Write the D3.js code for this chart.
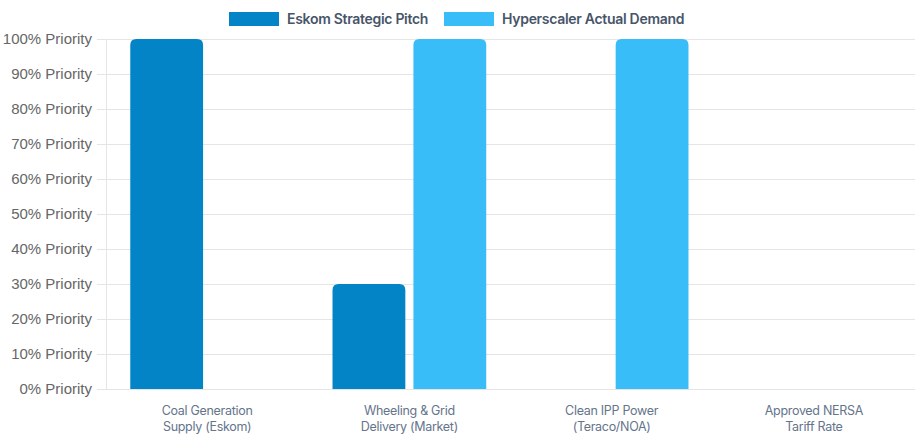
<!DOCTYPE html>
<html>
<head>
<meta charset="utf-8">
<script src="https://cdn.jsdelivr.net/npm/d3@7.9.0/dist/d3.min.js"></script>
<style>
  html, body { margin: 0; padding: 0; background: #fff; }
  svg { display: block; }
</style>
</head>
<body>
<svg id="chart" width="915" height="437"></svg>
<script>
// Chart data
const categories = [
  ['Coal Generation', 'Supply (Eskom)'],
  ['Wheeling & Grid', 'Delivery (Market)'],
  ['Clean IPP Power', '(Teraco/NOA)'],
  ['Approved NERSA', 'Tariff Rate']
];
const seriesNames = ['Eskom Strategic Pitch', 'Hyperscaler Actual Demand'];
const eskomPitch = [100, 30, 0, 0];
const hyperscalerDemand = [0, 100, 100, 0];
const yTicks = [0, 10, 20, 30, 40, 50, 60, 70, 80, 90, 100];

const colors = ['#0284c7', '#38bdf8'];
const series = [eskomPitch, hyperscalerDemand];

const width = 915, height = 437;
const margin = { top: 39, right: 0, bottom: 48, left: 106 };

const svg = d3.select('#chart');

// Scales (category takes 80% of its slot, each bar 90% of its half)
const x0 = d3.scaleBand()
  .domain(d3.range(categories.length))
  .range([margin.left, width - margin.right]);

const x1 = d3.scaleBand()
  .domain(d3.range(series.length))
  .range([x0.bandwidth() * 0.1, x0.bandwidth() * 0.9])
  .paddingInner(0.1).paddingOuter(0.05);

const y = d3.scaleLinear()
  .domain([0, 100])
  .range([height - margin.bottom, margin.top]);

// Grid lines + y ticks
const yAxis = d3.axisLeft(y)
  .tickValues(yTicks)
  .tickSize(-(width - margin.left - margin.right))
  .tickFormat((d) => `${d}% Priority`);

const gy = svg.append('g')
  .attr('transform', `translate(${margin.left},0)`)
  .call(yAxis);

gy.select('.domain').attr('stroke', '#e5e5e5');
gy.selectAll('.tick line')
  .attr('x1', -9)
  .attr('stroke', '#e5e5e5');
gy.selectAll('.tick text')
  .attr('x', -14)
  .attr('fill', '#666')
  .style('font-family', '"Liberation Sans", Arial, sans-serif')
  .style('font-size', '15px');

// Bars with rounded tops
function topRoundedRect(x, yTop, w, h, r) {
  r = Math.min(r, h, w / 2);
  const yb = yTop + h;
  return `M${x},${yb}V${yTop + r}Q${x},${yTop} ${x + r},${yTop}` +
    `H${x + w - r}Q${x + w},${yTop} ${x + w},${yTop + r}V${yb}Z`;
}

series.forEach((vals, si) => {
  const bars = vals.map((v, i) => ({ v, i })).filter((d) => d.v > 0);
  svg.append('g')
    .selectAll('path')
    .data(bars)
    .join('path')
    .attr('d', (d) => {
      const bx = x0(d.i) + x1(si);
      const top = y(d.v);
      return topRoundedRect(bx, top, x1.bandwidth(), y(0) - top, 6);
    })
    .attr('fill', colors[si]);
});

// X labels
const xl = svg.append('g');
categories.forEach((lines, i) => {
  const cx = x0(i) + x0.bandwidth() / 2;
  const t = xl.append('text')
    .attr('x', cx)
    .attr('y', 415)
    .attr('text-anchor', 'middle')
    .attr('fill', '#64748b')
    .style('font-family', 'Inter, sans-serif')
    .style('font-size', '12.5px')
    .style('letter-spacing', '-0.3px');
  lines.forEach((ln, j) => {
    t.append('tspan')
      .attr('x', cx)
      .attr('dy', j === 0 ? 0 : 16)
      .text(ln);
  });
});

// Legend
const legend = svg.append('g');
const legendX = [229, 444];
seriesNames.forEach((name, i) => {
  legend.append('rect')
    .attr('x', legendX[i]).attr('y', 12)
    .attr('width', 50).attr('height', 14)
    .attr('fill', colors[i]);
  legend.append('text')
    .attr('x', legendX[i] + 58).attr('y', 24)
    .attr('fill', '#475569')
    .style('font-family', 'Inter, sans-serif')
    .style('font-size', '14px')
    .style('font-weight', 600)
    .style('letter-spacing', '-0.3px')
    .text(name);
});
</script>
</body>
</html>
